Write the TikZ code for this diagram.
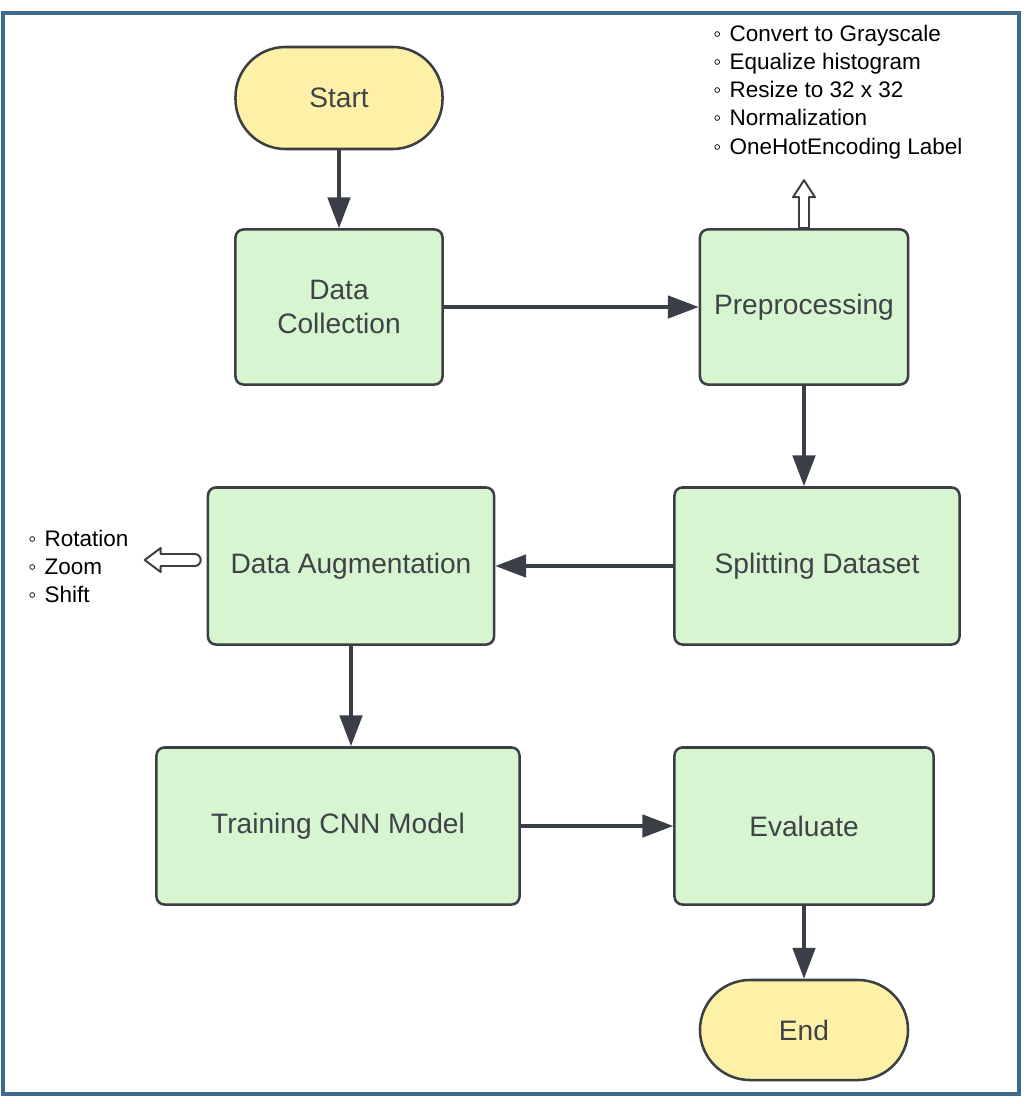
\documentclass[tikz,border=0pt]{standalone}
\usepackage{fontspec}
\setmainfont{Liberation Sans}
\usepackage{tikz}
\definecolor{verdeclaro}{HTML}{D7F5D0}
\definecolor{amareloclaro}{HTML}{FDF1A8}
\definecolor{cinzaborda}{HTML}{3B3F44}
\definecolor{cinzatexto}{HTML}{3F4348}
\definecolor{cinzaseta}{HTML}{3A3F47}
\definecolor{azulborda}{HTML}{3E6A8C}
\usetikzlibrary{arrows.meta}
\tikzstyle{etapa}=[rectangle, rounded corners=0.2cm, draw=cinzaborda, line width=1.8pt, fill=verdeclaro, text=cinzatexto, inner sep=0pt, align=center, font=\fontsize{20}{24}\selectfont]
\tikzstyle{terminal}=[etapa, fill=amareloclaro, rounded corners=1.25cm]
\tikzstyle{seta}=[draw=cinzaseta, line width=2.5pt, -{Triangle[length=22pt,width=16pt]}]
\tikzstyle{oca}=[draw=cinzaborda, fill=white, line width=1.4pt, line join=round]
\tikzstyle{lista}=[inner sep=0pt, align=left, anchor=north west, font=\fontsize{16}{20}\selectfont]
\newcommand{\marca}{◦\hspace{6pt}}

\begin{document}
\begin{tikzpicture}[x=0.025cm, y=-0.025cm]
			\useasboundingbox (0,0) rectangle (1028,1104);
			\draw[azulborda, line width=2.2pt] (3,13) rectangle (1019,1094);
			% etapas do fluxo
			\node[terminal, minimum width=5.175cm, minimum height=2.55cm] (inicio) at (339,98) {Start};
			\node[etapa, minimum width=5.175cm, minimum height=3.875cm] (coleta) at (339,307) {Data\\Collection};
			\node[etapa, minimum width=5.2cm, minimum height=3.875cm] (preproc) at (804,307) {Preprocessing};
			\node[etapa, minimum width=7.125cm, minimum height=3.925cm] (divisao) at (817,566) {Splitting Dataset};
			\node[etapa, minimum width=7.15cm, minimum height=3.925cm] (aumento) at (351,566) {Data Augmentation};
			\node[etapa, minimum width=9.075cm, minimum height=3.925cm] (treino) at (338,826) {Training CNN Model};
			\node[etapa, minimum width=6.475cm, minimum height=3.925cm] (avalia) at (804,826) {Evaluate};
			\node[terminal, minimum width=5.2cm, minimum height=2.5cm] (fim) at (804,1030) {End};
			% listas
			\node[lista] (listapre) at (713,25) {\marca Convert to Grayscale\\\marca Equalize histogram\\\marca Resize to 32 x 32\\\marca Normalization\\\marca OneHotEncoding Label};
			\node[lista] (listaaum) at (28,530) {\marca Rotation\\\marca Zoom\\\marca Shift};
			\path[seta] (inicio) -- (coleta);
			\path[seta] (coleta) -- (preproc);
			\path[seta] (preproc.south) -- (preproc.south |- divisao.north);
			\path[seta] (divisao) -- (aumento);
			\path[seta] (aumento.south) -- (aumento.south |- treino.north);
			\path[seta] (treino) -- (avalia);
			\path[seta] (avalia) -- (fim);
			% setas vazadas
			\path[oca] ([xshift=-0.125cm]preproc.north) -- ++(0,-31) -- ++(-6,0) -- ++(11,-17) -- ++(11,17) -- ++(-6,0) -- ++(0,31) -- cycle;
			\path[oca] ([xshift=-0.3cm]aumento.west) -- ++(-34,0) -- ++(0,6) -- ++(-16,-12) -- ++(16,-12) -- ++(0,6) -- ++(34,0) arc[start angle=-90, end angle=90, radius=6] -- cycle;
		\end{tikzpicture}
\end{document}
